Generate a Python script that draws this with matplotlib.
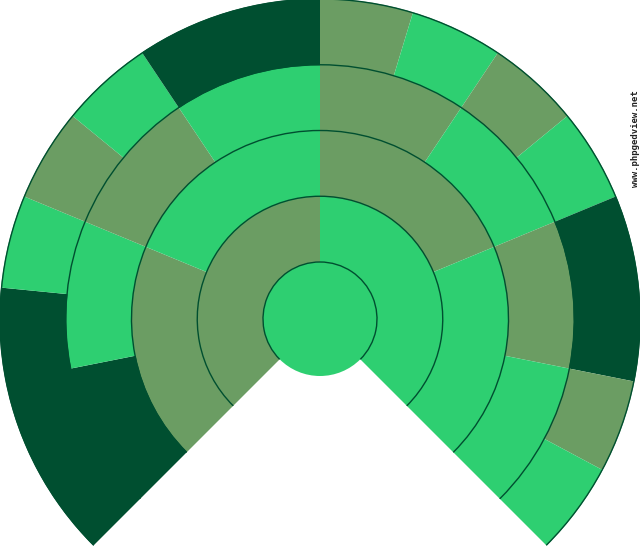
import matplotlib
matplotlib.use("Agg")
import matplotlib.pyplot as plt
from matplotlib.patches import Wedge, Circle, Arc

# Fan chart data: colour class of each box, generation by generation,
# listed clockwise from the lower-left end of the fan.
# 'B' = bright green, 'M' = muted green, 'D' = dark (empty)
centre = ['B']
gen1 = ['M', 'B']
gen2 = ['M', 'B', 'M', 'B']
gen3 = ['D', 'B', 'M', 'B', 'M', 'B', 'M', 'B']
gen4 = ['D', 'D', 'D', 'B', 'M', 'B', 'D', 'D',
        'M', 'B', 'M', 'B', 'D', 'D', 'M', 'B']
watermark = 'www.phpgedview.net'

palette = {'B': '#2ecf71', 'M': '#6b9d63', 'D': '#004f30'}
line_col = '#004f30'

W, H = 640, 550
fig = plt.figure(figsize=(W / 100, H / 100), dpi=100)
ax = fig.add_axes([0, 0, 1, 1])
ax.set_xlim(0, W)
ax.set_ylim(0, H)
ax.set_aspect('equal')
ax.axis('off')

cx, cy = 320, H - 319
r0 = 57.0
rw = (320 - r0) / 4
start, span = 225.0, 270.0

# centre circle
ax.add_patch(Circle((cx, cy), r0, facecolor=palette[centre[0]],
                    edgecolor='none', zorder=2))

for g, ring in enumerate([gen1, gen2, gen3, gen4]):
    n = len(ring)
    w = span / n
    r_out = r0 + (g + 1) * rw
    # merge consecutive boxes of the same colour to avoid seams
    i = 0
    while i < n:
        j = i
        while j + 1 < n and ring[j + 1] == ring[i]:
            j += 1
        t2 = start - i * w
        t1 = start - (j + 1) * w
        c = palette[ring[i]]
        ax.add_patch(Wedge((cx, cy), r_out + 0.5, t1, t2, width=rw + 1.0,
                           facecolor=c, edgecolor='none', zorder=1 + g * 0.01))
        i = j + 1

# ring outlines
for k in range(5):
    r = r0 + k * rw
    ax.add_patch(Arc((cx, cy), 2 * r, 2 * r, theta1=start - span, theta2=start,
                     color=line_col, linewidth=1.0, zorder=3))

ax.text(635, H - 139, watermark, rotation=90, ha='center', va='center',
        fontsize=6.5, family='DejaVu Sans Mono', fontweight='bold',
        color='#222222')

fig.savefig('out.png', dpi=100)
